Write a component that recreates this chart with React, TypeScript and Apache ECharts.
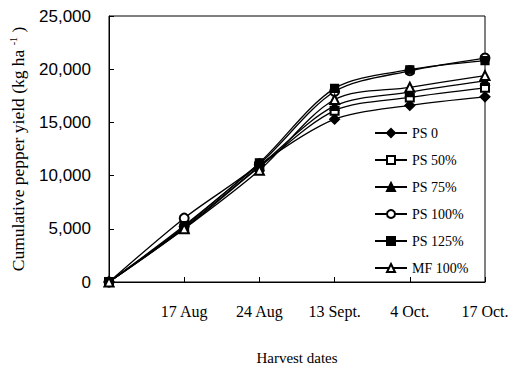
import React, { useEffect, useRef } from "react";
import * as echarts from "echarts";

const categories = ["", "17 Aug", "24 Aug", "13 Sept.", "4 Oct.", "17 Oct."];
const ps0 = [0, 5200, 11000, 15300, 16600, 17400];
const ps50 = [0, 5000, 10800, 16100, 17350, 18250];
const ps75 = [0, 5100, 10900, 16550, 17850, 18900];
const ps100 = [0, 6000, 11100, 17900, 19850, 21050];
const ps125 = [0, 5300, 11200, 18200, 19950, 20800];
const mf100 = [0, 5000, 10500, 17150, 18300, 19400];

const seriesNames = ["PS 0", "PS 50%", "PS 75%", "PS 100%", "PS 125%", "MF 100%"];
const seriesValues = [ps0, ps50, ps75, ps100, ps125, mf100];
const symbols = ["diamond", "emptyRect", "triangle", "emptyCircle", "rect", "emptyTriangle"];
const symbolSizes = [10, 8, 9, 9, 8, 9];

const SERIF = "'Liberation Serif', 'Times New Roman', serif";
const SANS = "'Liberation Sans', Arial, sans-serif";

export default function App() {
  const ref = useRef<HTMLDivElement>(null);
  useEffect(() => {
    if (!ref.current) return;
    const chart = echarts.init(ref.current, undefined, { renderer: "svg" });
    chart.setOption({
      animation: false,
      backgroundColor: "#fff",
      grid: {
        left: 109,
        top: 16,
        right: 29,
        bottom: 85,
        show: true,
        borderColor: "#000",
        borderWidth: 1,
        backgroundColor: "transparent",
      },
      legend: {
        orient: "vertical",
        left: 369,
        top: 121,
        itemWidth: 32,
        itemHeight: 10,
        itemGap: 13,
        textStyle: { fontFamily: SERIF, fontSize: 14, color: "#000", lineHeight: 14 },
        data: seriesNames,
      },
      xAxis: {
        type: "category",
        data: categories,
        boundaryGap: false,
        axisLine: { lineStyle: { color: "#000", width: 1 } },
        axisTick: { inside: true, length: 5, lineStyle: { color: "#000" } },
        axisLabel: { fontFamily: SERIF, fontSize: 16, color: "#000", margin: 21 },
        name: "Harvest dates",
        nameLocation: "middle",
        nameGap: 68,
        nameTextStyle: { fontFamily: SERIF, fontSize: 15, color: "#000" },
        splitLine: { show: false },
      },
      yAxis: {
        type: "value",
        min: 0,
        max: 25000,
        interval: 5000,
        axisLine: { show: true, lineStyle: { color: "#000", width: 1 } },
        axisTick: { show: true, inside: true, length: 5, lineStyle: { color: "#000" } },
        axisLabel: {
          fontFamily: SANS,
          fontSize: 17,
          color: "#000",
          margin: 18,
          formatter: (v: number) => v.toLocaleString("en-US"),
        },
        splitLine: { show: false },
        name: "{a|Cumulative pepper yield (kg ha }{s|-1}{a| )}",
        nameLocation: "middle",
        nameGap: 82,
        nameRotate: 90,
        nameTextStyle: {
          rich: {
            a: { fontFamily: SERIF, fontSize: 17.5, color: "#000", lineHeight: 19 },
            s: { fontFamily: SERIF, fontSize: 10, color: "#000", verticalAlign: "top" },
          },
        },
      },
      series: seriesNames.map((name, i) => ({
        name,
        type: "line",
        data: seriesValues[i],
        smooth: 0.3,
        symbol: symbols[i],
        symbolSize: symbolSizes[i],
        showAllSymbol: true,
        lineStyle: { color: "#000", width: 1.3 },
        itemStyle: { color: "#000", borderColor: "#000", borderWidth: 1.2 },
        emphasis: { disabled: true },
      })),
    });
    return () => chart.dispose();
  }, []);
  return (
    <div
      ref={ref}
      style={{ position: "fixed", left: 0, top: 0, width: 514, height: 370, background: "#fff" }}
    />
  );
}
